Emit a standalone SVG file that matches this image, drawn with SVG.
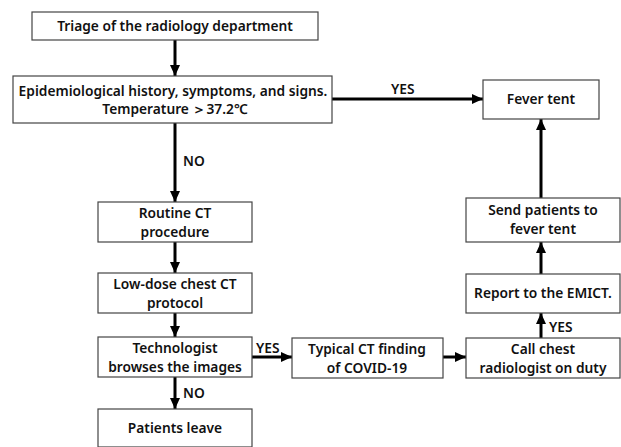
<svg xmlns="http://www.w3.org/2000/svg" width="621" height="447" viewBox="0 0 621 447">
<style>
.box{fill:#fff;stroke:#444;stroke-width:1.2}
.t{font-family:"Noto Sans","Liberation Sans",sans-serif;font-weight:600;font-size:13.75px;fill:#111;text-anchor:middle}
.lbl{font-family:"Noto Sans","Liberation Sans",sans-serif;font-weight:600;font-size:13.75px;fill:#111}
.c{stroke:#000;stroke-width:3;fill:none;marker-end:url(#ah)}
</style>
<defs>
<marker id="ah" markerUnits="userSpaceOnUse" markerWidth="12" markerHeight="12" viewBox="0 0 12 12" refX="11" refY="6" orient="auto">
<path d="M0,1 L11,6 L0,11 Z" fill="#000"/>
</marker>
</defs>
<rect width="621" height="447" fill="#fff"/>
<g id="connectors">
<line class="c" x1="175" y1="40" x2="175" y2="76"/>
<line class="c" x1="175" y1="123" x2="175" y2="202"/>
<line class="c" x1="332" y1="99" x2="483" y2="99"/>
<line class="c" x1="175" y1="242" x2="175" y2="273"/>
<line class="c" x1="175" y1="313" x2="175" y2="337"/>
<line class="c" x1="175" y1="377" x2="175" y2="409"/>
<line class="c" x1="252" y1="357" x2="292" y2="357"/>
<line class="c" x1="443" y1="357" x2="466" y2="357"/>
<line class="c" x1="541" y1="338" x2="541" y2="313"/>
<line class="c" x1="541" y1="274" x2="541" y2="242"/>
<line class="c" x1="541" y1="198" x2="541" y2="119"/>
<text class="lbl" x="391" y="94">YES</text>
<text class="lbl" x="183" y="166">NO</text>
<text class="lbl" x="256" y="353">YES</text>
<text class="lbl" x="183" y="398">NO</text>
<text class="lbl" x="549" y="332">YES</text>
</g>
<g id="triage"><rect class="box" x="32" y="12" width="286" height="28"/><text class="t" x="175" y="31">Triage of the radiology department</text></g>
<g id="epi"><rect class="box" x="13" y="76" width="319" height="47"/><text class="t" x="173" y="96">Epidemiological history, symptoms, and signs.</text><text class="t" x="175" y="114">Temperature ＞37.2℃</text></g>
<g id="fever"><rect class="box" x="483" y="80" width="116" height="39"/><text class="t" x="541" y="104">Fever tent</text></g>
<g id="routine"><rect class="box" x="98" y="202" width="154" height="40"/><text class="t" x="175" y="218">Routine CT</text><text class="t" x="175" y="237">procedure</text></g>
<g id="lowdose"><rect class="box" x="98" y="273" width="154" height="40"/><text class="t" x="175" y="289">Low-dose chest CT</text><text class="t" x="175" y="308">protocol</text></g>
<g id="tech"><rect class="box" x="98" y="337" width="154" height="40"/><text class="t" x="175" y="353">Technologist</text><text class="t" x="175" y="372">browses the images</text></g>
<g id="leave"><rect class="box" x="98" y="409" width="154" height="38"/><text class="t" x="175" y="433">Patients leave</text></g>
<g id="typical"><rect class="box" x="292" y="338" width="151" height="40"/><text class="t" x="367" y="354">Typical CT finding</text><text class="t" x="367" y="373">of COVID-19</text></g>
<g id="call"><rect class="box" x="466" y="338" width="154" height="40"/><text class="t" x="543" y="354">Call chest</text><text class="t" x="543" y="373">radiologist on duty</text></g>
<g id="report"><rect class="box" x="466" y="274" width="154" height="39"/><text class="t" x="543" y="298">Report to the EMICT.</text></g>
<g id="send"><rect class="box" x="466" y="198" width="154" height="44"/><text class="t" x="543" y="215">Send patients to</text><text class="t" x="543" y="234">fever tent</text></g>
</svg>
